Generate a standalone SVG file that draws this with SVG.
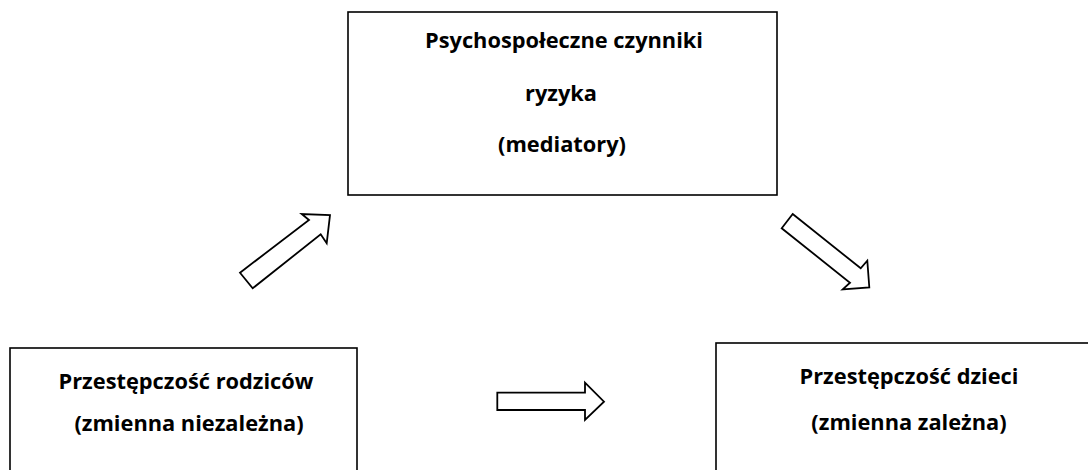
<svg xmlns="http://www.w3.org/2000/svg" width="1088" height="470" viewBox="0 0 1088 470">
<style>
.box{fill:#fff;stroke:#000;stroke-width:1.6}
.arr{fill:#fff;stroke:#000;stroke-width:1.8;stroke-linejoin:miter}
text{font-family:"Open Sans","DejaVu Sans",sans-serif;font-weight:bold;font-size:21.8px;fill:#000;text-anchor:middle}
</style>
<rect width="1088" height="470" fill="#fff"/>
<g id="node-mediatory">
<rect class="box" x="348" y="12" width="429" height="183"/>
<text x="564" y="48">Psychospołeczne czynniki</text>
<text x="561" y="101">ryzyka</text>
<text x="562" y="152">(mediatory)</text>
</g>
<g id="node-rodzicow">
<rect class="box" x="10" y="348" width="347" height="140"/>
<text x="186" y="389">Przestępczość rodziców</text>
<text x="189" y="431">(zmienna niezależna)</text>
</g>
<g id="node-dzieci">
<rect class="box" x="716" y="343" width="390" height="140"/>
<text x="909" y="384">Przestępczość dzieci</text>
<text x="909" y="430">(zmienna zależna)</text>
</g>
<g id="connectors">
<polygon class="arr" points="240,272.7 309,220 301.7,214 330,215 326.7,243.3 320.7,234.3 252.7,288.3"/>
<polygon class="arr" points="792.7,214 860.7,268.3 867.3,260.7 869.3,287.3 842.7,289.3 850,282.7 781.7,228.3"/>
<polygon class="arr" points="497.3,392.7 585,392.7 585,382.7 604,401.7 585,420 585,410 497.3,410"/>
</g>
</svg>
